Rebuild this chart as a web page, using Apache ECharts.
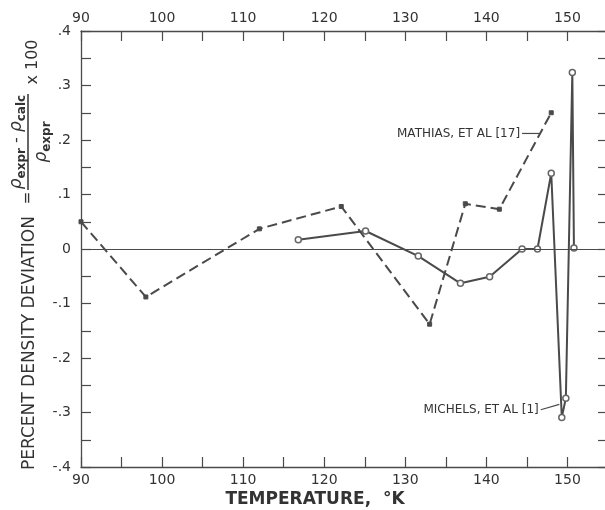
<!DOCTYPE html>
<html><head><meta charset="utf-8">
<script src="https://cdn.jsdelivr.net/npm/echarts@6/dist/echarts.min.js"></script>
<style>html,body{margin:0;padding:0;background:#fff}#c{width:605px;height:510px}</style>
</head><body><div id="c"></div>
<script>
const mathiasT = [90, 98, 112, 122.1, 133, 137.4, 141.6, 148.0];
const mathiasV = [0.05, -0.088, 0.037, 0.078, -0.138, 0.083, 0.073, 0.25];
const michelsT = [116.8, 125.1, 131.6, 136.8, 140.4, 144.4, 146.3, 148.0, 149.3, 149.8, 150.6, 150.8];
const michelsV = [0.017, 0.033, -0.013, -0.063, -0.051, 0.0, 0.0, 0.139, -0.309, -0.274, 0.324, 0.002];
const xTickLabels = [90, 100, 110, 120, 130, 140, 150];
const yTickLabels = ['.4', '.3', '.2', '.1', '0', '-.1', '-.2', '-.3', '-.4'];
const mathiasLabel = 'MATHIAS, ET AL [17]';
const michelsLabel = 'MICHELS, ET AL [1]';

const ink = '#4a4a4a';
const font = 'DejaVu Sans';
const chart = echarts.init(document.getElementById('c'));
const zip = (a, b) => a.map((v, i) => [v, b[i]]);

function xLab(v) { return xTickLabels.indexOf(Math.round(v)) >= 0 && Math.abs(v - Math.round(v)) < 1e-6 ? String(Math.round(v)) : ''; }
function yLab(v) {
  const k = Math.round(v * 100);
  if (k % 10 !== 0) return '';
  return yTickLabels[(40 - k) / 10];
}
const axisCommon = {
  min: 90, max: 155, interval: 5,
  axisLine: { onZero: false, lineStyle: { color: ink, width: 1.3 } },
  axisTick: { inside: true, length: 10, lineStyle: { color: ink, width: 1.2 } },
  splitLine: { show: false },
  axisLabel: { formatter: xLab, color: '#333', fontFamily: font, fontSize: 14, margin: 6 }
};
const yCommon = {
  type: 'value', min: -0.4, max: 0.4, interval: 0.05,
  axisLine: { show: true, onZero: false, lineStyle: { color: ink, width: 1.3 } },
  axisTick: { show: true, inside: true, length: 10, lineStyle: { color: ink, width: 1.2 } },
  splitLine: { show: false }
};

chart.setOption({
  animation: false,
  backgroundColor: '#fff',
  grid: { left: 81, width: 527, top: 31, bottom: 43, outerBoundsMode: 'none', containLabel: false },
  xAxis: [
    Object.assign({ type: 'value', position: 'bottom' }, axisCommon),
    Object.assign({ type: 'value', position: 'top' }, axisCommon)
  ],
  yAxis: [
    Object.assign({ position: 'left', axisLabel: { formatter: yLab, color: '#333', fontFamily: font, fontSize: 14, margin: 10 } }, yCommon),
    Object.assign({ position: 'right', axisLabel: { show: false } }, yCommon)
  ],
  series: [
    {
      type: 'line', data: zip(mathiasT, mathiasV), symbol: 'rect', symbolSize: 4,
      lineStyle: { color: ink, width: 2, type: [10, 5] },
      itemStyle: { color: ink, borderColor: ink },
      markLine: {
        silent: true, symbol: 'none', label: { show: false },
        lineStyle: { color: ink, width: 1.2, type: 'solid' },
        data: [{ yAxis: 0 }]
      }
    },
    {
      type: 'line', data: zip(michelsT, michelsV), symbol: 'circle', symbolSize: 6,
      lineStyle: { color: ink, width: 2 },
      itemStyle: { color: '#fff', borderColor: '#666', borderWidth: 1.5 }
    }
  ]
});

const P = (x, y) => chart.convertToPixel({ gridIndex: 0 }, [x, y]);
const m1 = P(144.4, 0.212), m2 = P(146.6, 0.212);
const n1 = P(146.7, -0.295), n2 = P(149.0, -0.285);

const subRich = {
  r: { fontFamily: font, fontSize: 17, fill: '#333', lineHeight: 22, fontStyle: 'italic' },
  s: { fontFamily: font, fontSize: 12, fill: '#333', lineHeight: 22, verticalAlign: 'bottom', fontWeight: 'bold', padding: [8, 0, 0, 0] },
  t: { fontFamily: font, fontSize: 16, fill: '#333', lineHeight: 22 }
};

chart.setOption({
  graphic: [
    { type: 'line', shape: { x1: m1[0], y1: m1[1], x2: m2[0], y2: m2[1] }, style: { stroke: ink, lineWidth: 1.2 } },
    { type: 'text', x: m1[0] - 2, y: m1[1], style: { text: mathiasLabel, fontFamily: font, fontSize: 12, fill: '#333', align: 'right', verticalAlign: 'middle' } },
    { type: 'line', shape: { x1: n1[0], y1: n1[1], x2: n2[0], y2: n2[1] }, style: { stroke: ink, lineWidth: 1.2 } },
    { type: 'text', x: n1[0] - 2, y: n1[1], style: { text: michelsLabel, fontFamily: font, fontSize: 12, fill: '#333', align: 'right', verticalAlign: 'middle' } },
    { type: 'text', x: 315, y: 500, style: { text: 'TEMPERATURE,  °K', fontFamily: font, fontSize: 17, fontWeight: 'bold', fill: '#333', align: 'center', verticalAlign: 'middle' } },
    {
      type: 'group', x: 30, y: 470, rotation: Math.PI / 2,
      children: [
        { type: 'text', x: 0, y: 0, style: { text: 'PERCENT DENSITY DEVIATION', fontFamily: font, fontSize: 17, fill: '#333', align: 'left', verticalAlign: 'middle' } },
        { type: 'text', x: 272, y: -2, style: { text: '=', fontFamily: font, fontSize: 15, fill: '#333', align: 'center', verticalAlign: 'middle' } },
        { type: 'text', x: 328, y: -13, style: { text: '{r|ρ}{s|expr}{t| - }{r|ρ}{s|calc}', rich: subRich, align: 'center', verticalAlign: 'middle' } },
        { type: 'line', shape: { x1: 280, y1: -2, x2: 376, y2: -2 }, style: { stroke: '#333', lineWidth: 1.5 } },
        { type: 'text', x: 328, y: 12, style: { text: '{r|ρ}{s|expr}', rich: subRich, align: 'center', verticalAlign: 'middle' } },
        { type: 'text', x: 408, y: 3, style: { text: 'x 100', fontFamily: font, fontSize: 16, fill: '#333', align: 'center', verticalAlign: 'middle' } }
      ]
    }
  ]
});
</script></body></html>
